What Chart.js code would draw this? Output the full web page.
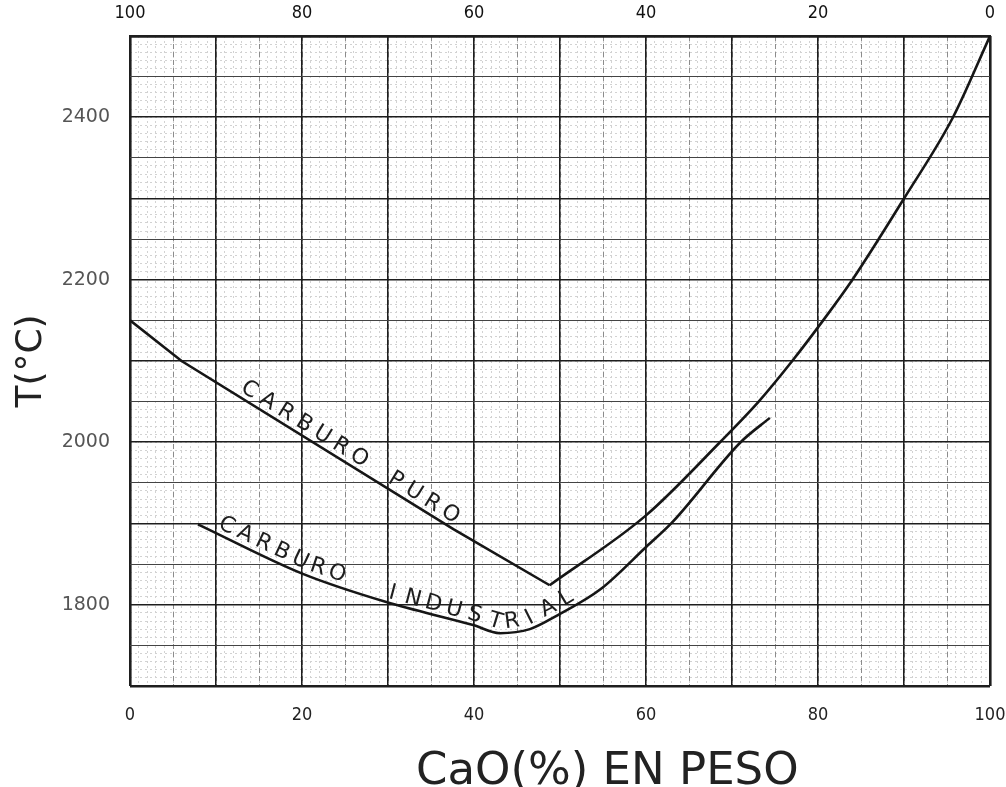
<!DOCTYPE html>
<html><head><meta charset="utf-8">
<script src="https://cdn.jsdelivr.net/npm/chart.js@4.4.1/dist/chart.umd.min.js"></script>
<style>html,body{margin:0;padding:0;background:#fff}#wrap{width:1006px;height:787px}</style>
</head><body><div id="wrap"><canvas id="c" width="1006" height="787"></canvas></div>
<script>
// ---- data ----
const puroX = [0, 6, 37.6, 48.8, 60, 68.6, 73.1, 77, 80.6, 84, 90, 95.7, 100];
const puroT = [2150, 2100, 1893, 1824, 1910, 2000, 2050, 2100, 2150, 2200, 2300, 2400, 2500];
const indX = [7.9, 20.1, 29.9, 39.9, 43, 46.5, 49.7, 54.7, 60.1, 63.1, 71, 74.4];
const indT = [1899, 1838, 1803, 1775, 1765, 1770, 1787, 1819, 1872, 1902, 2000, 2030];
const bottomTicks = [0, 20, 40, 60, 80, 100];
const topTicks = [100, 80, 60, 40, 20, 0];
const yTicks = [1800, 2000, 2200, 2400];
const xTitle = 'CaO(%) EN PESO';
const xTitleCenter = 55.5;
const yTitle = 'T(°C)';
const puroLabel = 'CARBURO PURO';
const indLabel1 = 'CARBURO';
const indLabel2 = 'INDUSTRIAL';
const puroLabelStart = 13.2;
const indLabel1Start = 10.7;
const indLabel2Start = 30.2;

const toPts = (xs, ys) => xs.map((x, i) => ({x, y: ys[i]}));
// split pure-carbide curve at its eutectic vertex (lowest temperature)
const vIdx = puroT.indexOf(Math.min(...puroT));
const puroLeft = toPts(puroX.slice(0, vIdx + 1), puroT.slice(0, vIdx + 1));
const puroRight = toPts(puroX.slice(vIdx), puroT.slice(vIdx));

function drawAlong(ctx, pts, text, startX, spacing, offset) {
  const cum = [0];
  for (let i = 1; i < pts.length; i++) cum.push(cum[i-1] + Math.hypot(pts[i].x - pts[i-1].x, pts[i].y - pts[i-1].y));
  let s0 = 0;
  for (let i = 1; i < pts.length; i++) {
    if (pts[i].x >= startX) {
      const t = (startX - pts[i-1].x) / (pts[i].x - pts[i-1].x);
      s0 = cum[i-1] + t * (cum[i] - cum[i-1]);
      break;
    }
  }
  for (let k = 0; k < text.length; k++) {
    const s = s0 + k * spacing;
    let i = 1;
    while (i < pts.length - 1 && cum[i] < s) i++;
    const seg = cum[i] - cum[i-1];
    const t = (s - cum[i-1]) / seg;
    const x = pts[i-1].x + t * (pts[i].x - pts[i-1].x);
    const y = pts[i-1].y + t * (pts[i].y - pts[i-1].y);
    const dx = (pts[i].x - pts[i-1].x) / seg, dy = (pts[i].y - pts[i-1].y) / seg;
    ctx.save();
    ctx.translate(x + dy * offset, y - dx * offset);
    ctx.rotate(Math.atan2(dy, dx));
    ctx.fillText(text[k], 0, 0);
    ctx.restore();
  }
}

const curveLabels = {
  id: 'curveLabels',
  afterDatasetsDraw(chart) {
    const ctx = chart.ctx;
    ctx.save();
    ctx.font = '22px "DejaVu Sans", sans-serif';
    ctx.fillStyle = '#1e1e1e';
    ctx.textAlign = 'center';
    ctx.textBaseline = 'middle';
    const xs = chart.scales.x;
    const p0 = chart.getDatasetMeta(0).data.map(p => ({x: p.x, y: p.y}));
    const p1 = chart.getDatasetMeta(2).data.map(p => ({x: p.x, y: p.y}));
    drawAlong(ctx, p0, puroLabel, xs.getPixelForValue(puroLabelStart), 21.5, 11);
    drawAlong(ctx, p1, indLabel1, xs.getPixelForValue(indLabel1Start), 20.3, 11);
    drawAlong(ctx, p1, indLabel2, xs.getPixelForValue(indLabel2Start), 21.3, 10);
    // x-axis title
    ctx.font = '45px "DejaVu Sans", sans-serif';
    ctx.fillStyle = '#222';
    ctx.textBaseline = 'alphabetic';
    ctx.fillText(xTitle, xs.getPixelForValue(xTitleCenter), 784);
    ctx.restore();
  }
};

const tickFont = {family: '"DejaVu Sans Condensed", "DejaVu Sans", sans-serif', size: 18};
const edge = v => v === 0 || v === 100;
const noPad = s => { s.paddingLeft = 0; s.paddingRight = 0; };
const lineStyle = {showLine: true, borderColor: '#161616', borderWidth: 2.6, pointRadius: 0, xAxisID: 'x', yAxisID: 'y'};

new Chart(document.getElementById('c'), {
  type: 'scatter',
  data: {
    datasets: [
      Object.assign({data: puroLeft, tension: 0}, lineStyle),
      Object.assign({data: puroRight, cubicInterpolationMode: 'monotone'}, lineStyle),
      Object.assign({data: toPts(indX, indT), cubicInterpolationMode: 'monotone'}, lineStyle)
    ]
  },
  options: {
    responsive: false,
    animation: false,
    events: [],
    layout: {padding: {left: 0, right: 16, top: 0, bottom: 0}},
    plugins: {legend: {display: false}, tooltip: {enabled: false}},
    scales: {
      x: {
        type: 'linear', position: 'bottom', min: 0, max: 100,
        ticks: {stepSize: 10, autoSkip: false, maxRotation: 0, padding: 19, color: '#222', font: tickFont,
                callback: v => bottomTicks.includes(v) ? String(v) : ''},
        grid: {color: '#1e1e1e', lineWidth: c => edge(c.tick && c.tick.value) ? 2.6 : 1.5, drawTicks: false, z: -1},
        border: {display: false},
        title: {display: false},
        afterFit: s => { s.height = 101; noPad(s); }
      },
      xd: {
        type: 'linear', position: 'bottom', min: 0, max: 100,
        ticks: {display: false, stepSize: 5},
        grid: {color: '#8c8c8c', lineWidth: 1, drawTicks: false, z: -2},
        border: {display: false, dash: [5, 3]},
        afterFit: s => { s.height = 0; noPad(s); }
      },
      xm: {
        type: 'linear', position: 'bottom', min: 0, max: 100,
        ticks: {display: false, stepSize: 1},
        grid: {color: '#d2d2d2', lineWidth: 1, drawTicks: false, z: -3},
        border: {display: false, dash: [2, 3]},
        afterFit: s => { s.height = 0; noPad(s); }
      },
      x2: {
        type: 'linear', position: 'top', reverse: true, min: 0, max: 100,
        ticks: {stepSize: 20, autoSkip: false, maxRotation: 0, padding: 12, color: '#111',
                font: {family: tickFont.family, size: 18},
                callback: v => topTicks.includes(v) ? String(v) : ''},
        grid: {display: false, drawTicks: false},
        border: {display: true, color: '#1e1e1e', width: 2.6},
        afterFit: s => { s.height = 36; noPad(s); }
      },
      y: {
        type: 'linear', position: 'left', min: 1700, max: 2500,
        ticks: {stepSize: 50, autoSkip: false, padding: 20, color: '#555',
                font: {family: '"DejaVu Sans", sans-serif', size: 19},
                callback: v => yTicks.includes(v) ? String(v) : ''},
        grid: {color: c => (c.tick && c.tick.value % 100 === 0) ? '#1e1e1e' : '#444',
               lineWidth: c => {
                 const v = c.tick && c.tick.value;
                 if (v === 1700 || v === 2500) return 2.6;
                 return v % 100 === 0 ? 1.6 : 1.1;
               }, drawTicks: false, z: -1},
        border: {display: false},
        title: {display: true, text: yTitle, color: '#222', padding: {top: 10, bottom: 0},
                font: {family: '"DejaVu Sans", sans-serif', size: 36, lineHeight: 1.2}},
        afterFit: s => { s.width = 130; }
      },
      ym: {
        type: 'linear', position: 'left', min: 1700, max: 2500,
        ticks: {display: false, stepSize: 10},
        grid: {color: '#d2d2d2', lineWidth: 1, drawTicks: false, z: -3},
        border: {display: false, dash: [2, 3]},
        afterFit: s => { s.width = 0; }
      }
    }
  },
  plugins: [curveLabels]
});
</script>
</body></html>
